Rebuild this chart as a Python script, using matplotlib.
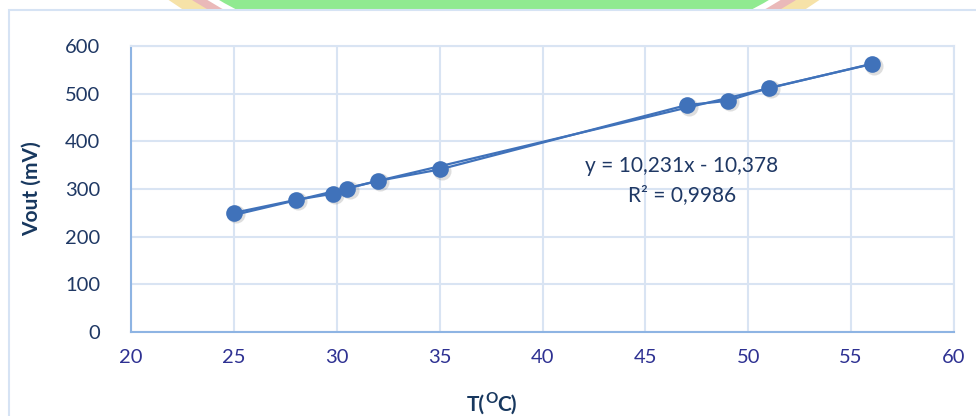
import numpy as np
import matplotlib.pyplot as plt
from matplotlib.patches import Circle, Rectangle

plt.rcParams['font.family'] = ['Lato', 'DejaVu Sans']

# measured temperature vs. sensor output
temp_c = [25, 28, 29.8, 30.5, 32, 35, 47, 49, 51, 56]
vout_mv = [250, 277, 290, 301, 317, 341, 476, 485, 512, 562]

# linear trendline coefficients
slope = 10.231
intercept = -10.378
r_squared = 0.9986

x_ticks = [20, 25, 30, 35, 40, 45, 50, 55, 60]
y_ticks = [0, 100, 200, 300, 400, 500, 600]

W, H = 976, 416
fig = plt.figure(figsize=(W / 100, H / 100), dpi=100)

# background layer in pixel coordinates
bg = fig.add_axes([0, 0, 1, 1], zorder=0)
bg.set_xlim(0, W)
bg.set_ylim(H, 0)
bg.axis('off')
for r, c in [(575, '#f6e2a8'), (562, '#eab9b9'), (554, '#ffffff'), (548, '#90ea90')]:
    bg.add_patch(Circle((494, -474), r, color=c, lw=0))
bg.add_patch(Rectangle((9, 10), W, H, facecolor='white', edgecolor='#d6e3f4', lw=1.5))

grid_c = '#d9e4f3'
line_c = '#4072ba'
title_c = '#17375e'
ax = fig.add_axes([131 / W, 1 - 332 / H, (954 - 131) / W, (332 - 46) / H], zorder=1)
ax.set_facecolor('none')

ax.set_xlim(20, 60)
ax.set_ylim(0, 600)
ax.set_xticks(x_ticks)
ax.set_yticks(y_ticks)
ax.grid(True, color=grid_c, lw=1.5)
ax.set_axisbelow(True)
for s in ['top', 'right']:
    ax.spines[s].set_color(grid_c)
    ax.spines[s].set_linewidth(1.5)
for s in ['left', 'bottom']:
    ax.spines[s].set_color('#8eb4e3')
    ax.spines[s].set_linewidth(1.5)
ax.tick_params(length=0, labelsize=14.5)
ax.tick_params(axis='x', colors='#2e3192', pad=12)
ax.tick_params(axis='y', colors='#1f3864', pad=22)

# soft marker shadows
ax.plot(np.array(temp_c) + 0.12, np.array(vout_mv) - 3, 'o', ms=13,
        color='#7f7f7f', alpha=0.25, mec='none', zorder=2)

# data series and its trendline
ax.plot(temp_c, vout_mv, '-', color=line_c, lw=1.6, zorder=3)
tx = np.array([min(temp_c), max(temp_c)])
ax.plot(tx, slope * tx + intercept, '-', color=line_c, lw=1.6, zorder=3)
ax.plot(temp_c, vout_mv, 'o', ms=12, color=line_c, mec='none', zorder=4)

def fmt(v, d):
    return f'{abs(v):.{d}f}'.replace('.', ',')

sign = '-' if intercept < 0 else '+'
ax.text(0.669, 0.581, f'y = {fmt(slope, 3)}x {sign} {fmt(intercept, 3)}',
        transform=ax.transAxes, ha='center', va='center', fontsize=15, color='#1f3864')
ax.text(0.669, 0.479, f'R² = {fmt(r_squared, 4)}',
        transform=ax.transAxes, ha='center', va='center', fontsize=15, color='#1f3864')

# x title "T(°C)" with a raised bold O, built from three pieces
bold = dict(fontsize=15, fontweight='bold', color=title_c)
t1 = ax.text(0.4085, -0.275, 'T(', transform=ax.transAxes, ha='left', va='baseline', **bold)
t2 = ax.annotate('O', xy=(1, 0.45), xycoords=t1, ha='left', va='bottom',
                 fontsize=11, fontweight='bold', color=title_c)
ax.annotate('C)', xy=(1, 0), xycoords=(t2, t1), ha='left', va='bottom', **bold)

ax.set_ylabel('Vout (mV)', fontsize=15, fontweight='bold', color=title_c, labelpad=17)

fig.savefig('out.png', dpi=100)
